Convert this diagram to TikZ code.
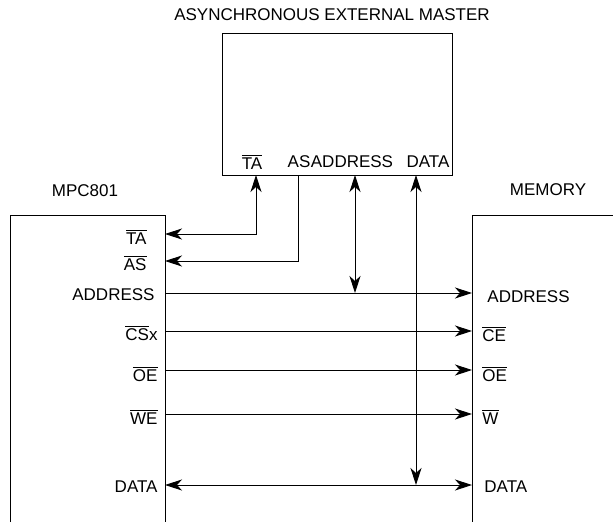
\documentclass[tikz,border=0pt]{standalone}
\usepackage{fontspec}
\setmainfont{Liberation Sans}
\usepackage{tikz}
\usetikzlibrary{arrows.meta}
\newcommand{\ovl}[1]{\setbox0\hbox{#1}\rlap{\rule[\dimexpr\ht0+2pt\relax]{\wd0}{0.8pt}}\box0}

\begin{document}
\begin{tikzpicture}[x=1pt, y=-1pt, line width=0.9pt,
    font=\fontsize{17}{20}\selectfont,
    sig/.style={-{Stealth[length=17pt, width=11pt, inset=5pt]}},
    dsig/.style={{Stealth[length=17pt, width=11pt, inset=5pt]}-{Stealth[length=17pt, width=11pt, inset=5pt]}},
    lbl/.style={inner sep=0pt}]
        \useasboundingbox (0,0) rectangle (613,522);
        % blocks
        \node[draw, minimum width=230pt, minimum height=142pt, inner sep=0pt] (master) at (337,104) {};
        \draw (10,522) -- (10,215) -- (165,215) -- (165,522);
        \draw (613,215) -- (472,215) -- (472,522);
        \node[lbl] (mastertitle) at (332,15) {ASYNCHRONOUS EXTERNAL MASTER};
        \node[lbl] (mpctitle) at (85,191) {MPC801};
        \node[lbl] (memtitle) at (548,190) {MEMORY};
        % master pins
        \node[lbl] (mTAlbl) at (252,162) {\ovl{TA}};
        \node[lbl] (mASlbl) at (299,162) {AS};
        \node[lbl] (mADlbl) at (352,162) {ADDRESS};
        \node[lbl] (mDTlbl) at (428,162) {DATA};
        \coordinate (mTA) at (256,175);
        \coordinate (mAS) at (298,175);
        \coordinate (mAD) at (355,175);
        \coordinate (mDT) at (416,175);
        % MPC801 pins
        \node[lbl, anchor=east] (pTAlbl) at (147,237) {\ovl{TA}};
        \node[lbl, anchor=east] (pASlbl) at (147,263) {\ovl{AS}};
        \node[lbl, anchor=east] (pADlbl) at (155,295) {ADDRESS};
        \node[lbl, anchor=east] (pCSlbl) at (158,333) {\ovl{CS}x};
        \node[lbl, anchor=east] (pOElbl) at (158,374) {\ovl{OE}};
        \node[lbl, anchor=east] (pWElbl) at (158,417) {\ovl{WE}};
        \node[lbl, anchor=east] (pDTlbl) at (158,487) {DATA};
        \coordinate (pTA) at (165,234);
        \coordinate (pAS) at (165,261);
        \coordinate (pAD) at (165,293);
        \coordinate (pCS) at (165,331);
        \coordinate (pOE) at (165,370);
        \coordinate (pWE) at (165,414);
        \coordinate (pDT) at (165,485);
        % memory pins
        \node[lbl, anchor=west] (rADlbl) at (487,297) {ADDRESS};
        \node[lbl, anchor=west] (rCElbl) at (482,334) {\ovl{CE}};
        \node[lbl, anchor=west] (rOElbl) at (482,374) {\ovl{OE}};
        \node[lbl, anchor=west] (rWlbl) at (482,417) {\ovl{W}};
        \node[lbl, anchor=west] (rDTlbl) at (484,487) {DATA};
        \coordinate (rAD) at (472,293);
        \coordinate (rCS) at (472,331);
        \coordinate (rOE) at (472,370);
        \coordinate (rWE) at (472,414);
        \coordinate (rDT) at (472,485);
        % connections
        \draw[dsig] (pTA) -| (mTA);
        \draw[sig] (mAS) |- (pAS);
        \draw[sig] (pAD) -- (rAD);
        \coordinate (jAD) at (mAD |- pAD);
        \draw[dsig] (mAD) -- (jAD);
        \draw[sig] (pCS) -- (rCS);
        \draw[sig] (pOE) -- (rOE);
        \draw[sig] (pWE) -- (rWE);
        \draw[dsig] (pDT) -- (rDT);
        \coordinate (jDT) at (mDT |- pDT);
        \draw[dsig] (mDT) -- (jDT);
\end{tikzpicture}
\end{document}
